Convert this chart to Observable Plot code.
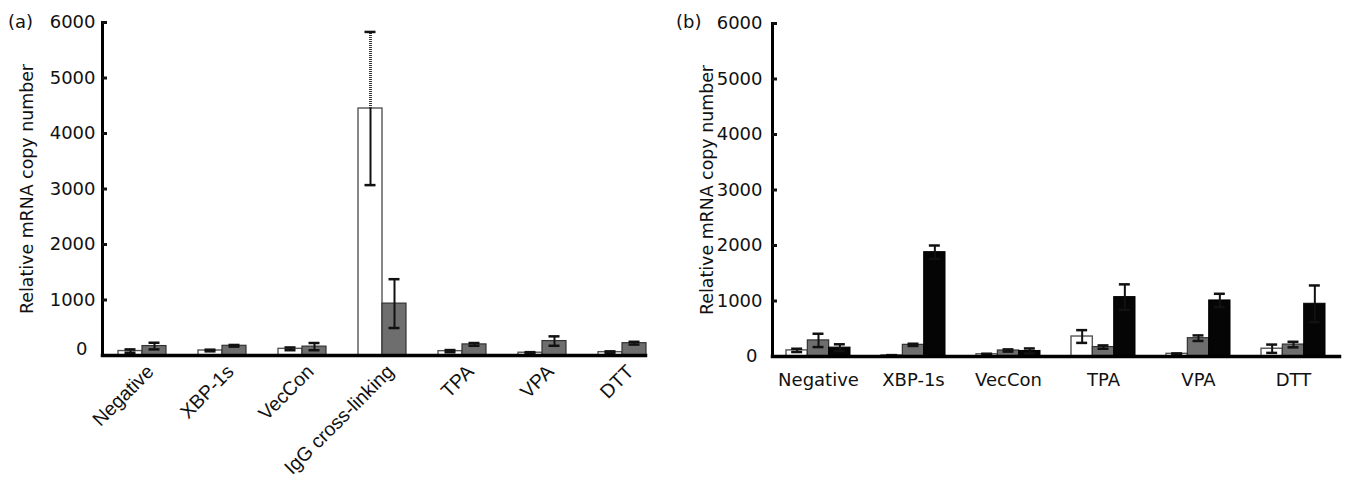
<!DOCTYPE html>
<html><head><meta charset="utf-8">
<script src="https://cdn.jsdelivr.net/npm/d3@7"></script>
<script src="https://cdn.jsdelivr.net/npm/@observablehq/plot@0.6"></script>
<style>
body{margin:0;background:#fff;font-family:"DejaVu Sans",sans-serif;}
#wrap{position:relative;width:1346px;height:489px;overflow:hidden;}
.panel{position:absolute;top:0;}
.tag{position:absolute;font-size:18px;color:#111;line-height:1;}
</style></head><body>
<div id="wrap">
 <div class="panel" id="pa" style="left:0"></div>
 <div class="panel" id="pb" style="left:673px"></div>
 <div class="tag" style="left:8px;top:13px">(a)</div>
 <div class="tag" style="left:676px;top:13px">(b)</div>
</div>
<script>
// ---------- data ----------
const categoriesA = ["Negative","XBP-1s","VecCon","IgG cross-linking","TPA","VPA","DTT"];
const seriesA = ["white","gray"];
const valuesA_white = [80, 90, 120, 4450, 78, 50, 60];
const errorsA_white = [30, 15, 25, 1380, 20, 10, 15];
const valuesA_gray  = [170, 175, 160, 935, 200, 260, 222];
const errorsA_gray  = [60, 15, 65, 440, 25, 85, 25];

const categoriesB = ["Negative","XBP-1s","VecCon","TPA","VPA","DTT"];
const seriesB = ["white","gray","black"];
const valuesB_white = [110, 20, 40, 360, 48, 140];
const errorsB_white = [30, 5, 10, 115, 8, 75];
const valuesB_gray  = [290, 210, 108, 170, 330, 215];
const errorsB_gray  = [120, 20, 20, 30, 50, 50];
const valuesB_black = [160, 1880, 100, 1070, 1010, 950];
const errorsB_black = [60, 120, 45, 230, 120, 330];

const yTicks = [0, 1000, 2000, 3000, 4000, 5000, 6000];
const yLabel = "Relative mRNA copy number";

// ---------- build rows ----------
function rows(cats, table) {
  const out = [];
  for (const [s, vals, errs] of table)
    cats.forEach((c, i) => out.push({cat: c, s, v: vals[i], e: errs[i]}));
  return out;
}
const rowsA = rows(categoriesA, [["white", valuesA_white, errorsA_white], ["gray", valuesA_gray, errorsA_gray]]);
const rowsB = rows(categoriesB, [["white", valuesB_white, errorsB_white], ["gray", valuesB_gray, errorsB_gray], ["black", valuesB_black, errorsB_black]]);

const styleOf = {
  white: {fill: "#ffffff", stroke: "#555", strokeWidth: 1.4},
  gray:  {fill: "#6e6e6e", stroke: "#333", strokeWidth: 1.2},
  black: {fill: "#050505", stroke: "#000", strokeWidth: 1}
};

function chart(o) {
  const n = o.cats.length, k = o.series.length;
  const step = (o.xRange[1] - o.xRange[0]) / (n - o.padding + 2 * o.paddingOuter);
  const bw = step * (1 - o.padding);
  const barW = bw / k;
  const capW = 11;
  const marks = [];
  o.series.forEach((s, i) => {
    const data = o.rows.filter(d => d.s === s);
    marks.push(Plot.barY(data, {x: "cat", y: "v", insetLeft: barW * i, insetRight: barW * (k - 1 - i), ...styleOf[s]}));
  });
  o.series.forEach((s, i) => {
    const data = o.rows.filter(d => d.s === s);
    const off = -bw / 2 + barW * (i + 0.5);
    const solidUp = data.filter(d => !(o.dotted && o.dotted(d)));
    const dotUp = data.filter(d => o.dotted && o.dotted(d));
    marks.push(Plot.ruleX(data, {x: "cat", y1: d => d.v - d.e, y2: "v", dx: off, stroke: "#111", strokeWidth: 2}));
    marks.push(Plot.ruleX(solidUp, {x: "cat", y1: "v", y2: d => d.v + d.e, dx: off, stroke: "#111", strokeWidth: 2}));
    marks.push(Plot.ruleX(dotUp, {x: "cat", y1: "v", y2: d => d.v + d.e, dx: off, stroke: "#333", strokeWidth: 3, strokeDasharray: "1 1"}));
    const ins = (bw - capW) / 2;
    marks.push(Plot.tickY(data, {x: "cat", y: d => d.v + d.e, dx: off, insetLeft: ins, insetRight: ins, stroke: "#111", strokeWidth: 2.5}));
    marks.push(Plot.tickY(data, {x: "cat", y: d => d.v - d.e, dx: off, insetLeft: ins, insetRight: ins, stroke: "#111", strokeWidth: 2.5}));
  });
  marks.push(Plot.frame({anchor: "left", stroke: "#000", strokeWidth: 3}));
  marks.push(Plot.frame({anchor: "bottom", stroke: "#000", strokeWidth: 3.5}));
  marks.push(Plot.axisY(yTicks.slice(1), {anchor: "left", tickSize: -5, tickPadding: o.tickGap + 5, tickFormat: "d", strokeWidth: 3, label: null}));
  marks.push(Plot.axisY([0], {anchor: "left", tickSize: 0, tickPadding: o.tickGap, tickFormat: "d", dx: o.zeroDx, dy: o.zeroDy, label: null}));
  marks.push(Plot.text([yLabel], {text: d => d, frameAnchor: "left", rotate: -90, dx: -o.labelOffset, textAnchor: "middle", fontSize: 17.4, fill: "#111"}));
  marks.push(Plot.axisX({anchor: "bottom", tickSize: 0, tickPadding: o.xPad, tickRotate: o.rotate, dx: o.xDx, label: null, fontFamily: o.xFont, fontSize: o.xSize}));
  return Plot.plot({
    width: o.width, height: 489,
    marginLeft: o.marginLeft, marginRight: o.marginRight, marginTop: o.marginTop, marginBottom: o.marginBottom,
    style: {fontFamily: "DejaVu Sans, sans-serif", fontSize: "18px", color: "#111", background: "transparent", overflow: "visible"},
    x: {type: "band", domain: o.cats, range: o.xRange, padding: o.padding, paddingOuter: o.paddingOuter},
    y: {domain: [0, 6000], axis: null},
    marks
  });
}

document.getElementById("pa").appendChild(chart({
  cats: categoriesA, rows: rowsA, series: seriesA,
  width: 670, marginLeft: 102, marginRight: 25, marginTop: 22, marginBottom: 134,
  xRange: [102, 662], padding: 0.4, paddingOuter: 0.2,
  rotate: -45, xPad: 13, xDx: 8, xFont: "Liberation Sans, Arial, sans-serif", xSize: 19.5,
  tickGap: 7, zeroDx: -8, zeroDy: -6, labelOffset: 75,
  dotted: d => d.cat === "IgG cross-linking" && d.s === "white"
}));
document.getElementById("pb").appendChild(chart({
  cats: categoriesB, rows: rowsB, series: seriesB,
  width: 673, marginLeft: 99, marginRight: 7, marginTop: 23, marginBottom: 133,
  xRange: [99, 666], padding: 0.326, paddingOuter: 0.147,
  rotate: 0, xPad: 17, xDx: 0, xFont: "DejaVu Sans, sans-serif", xSize: 18,
  tickGap: 10, zeroDx: -5, zeroDy: 0, labelOffset: 65
}));
</script>
</body></html>
